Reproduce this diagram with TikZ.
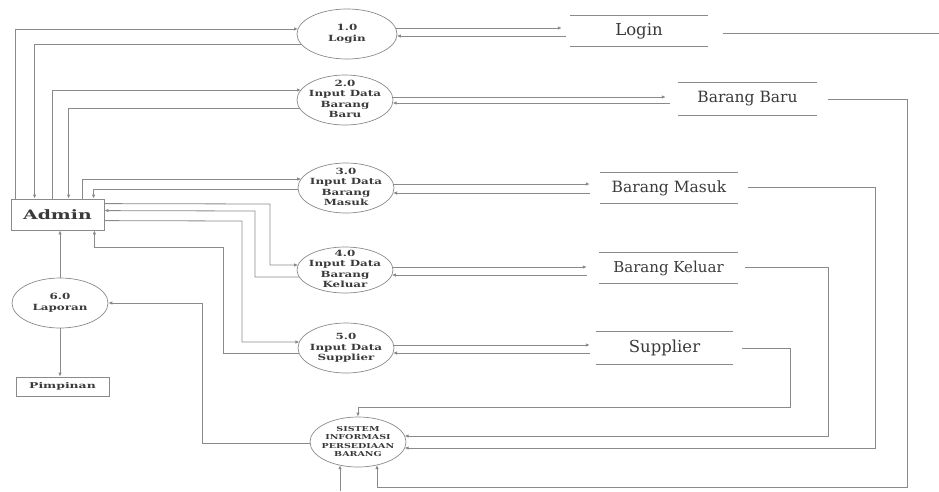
\documentclass[tikz,border=0pt]{standalone}
\usepackage{fontspec}
\setmainfont{DejaVu Serif}
\newfontfamily\procfont[FakeStretch=1.4]{DejaVu Serif}
\newfontfamily\widefont[FakeStretch=1.45]{DejaVu Serif}
\newfontfamily\pimfont[FakeStretch=1.55]{DejaVu Serif}
\usetikzlibrary{shapes.geometric,arrows.meta,calc}
\definecolor{ln}{HTML}{8A8A8A}
\definecolor{tx}{HTML}{3A3A3A}
\newcommand\ptext[2]{\makebox[0pt]{\raisebox{-2pt}[0pt][0pt]{#1\begin{tabular}{@{}c@{}}#2\end{tabular}}}}
\newcommand\pfont{\procfont\bfseries\fontsize{8.5}{10.5}\selectfont}
\begin{document}
\begin{tikzpicture}[x=1pt,y=-1pt,
  line/.style={draw=ln,line width=0.8pt},
  flow/.style={draw=ln,line width=0.8pt,-{Latex[length=4pt,width=3.5pt]}},
  proc/.style={ellipse,draw=ln,line width=0.7pt,inner sep=0pt,text=tx,minimum width=96pt,minimum height=50pt},
  boxnode/.style={rectangle,draw=ln,line width=0.8pt,inner sep=0pt,text=tx},
  store/.style={inner sep=0pt,text=tx,minimum height=30pt},
  storeline/.style={draw=ln,line width=1pt}]
\useasboundingbox (0,0) rectangle (939,491);

% external entities
\node[boxnode,minimum width=93pt,minimum height=31pt] (admin) at (57.5,214.5)
  {\widefont\bfseries\fontsize{13}{15}\selectfont Admin};
\node[boxnode,minimum width=93pt,minimum height=19pt] (pim) at (62.5,386.5)
  {\pimfont\bfseries\fontsize{8}{9}\selectfont Pimpinan};

% processes
\node[proc,minimum width=100pt] (p1) at (347,34) {\ptext{\pfont}{1.0\\Login}};
\node[proc] (p2) at (345,100) {\ptext{\pfont}{2.0\\Input Data\\Barang\\Baru}};
\node[proc] (p3) at (346,188) {\ptext{\pfont}{3.0\\Input Data\\Barang\\Masuk}};
\node[proc,minimum height=46pt] (p4) at (345,270) {\ptext{\pfont}{4.0\\Input Data\\Barang\\Keluar}};
\node[proc] (p5) at (346,348) {\ptext{\pfont}{5.0\\Input Data\\Supplier}};
\node[proc] (p6) at (60,303) {\ptext{\pfont}{6.0\\Laporan}};
\node[proc] (ps) at (358,442) {\ptext{\procfont\bfseries\fontsize{6.8}{8.5}\selectfont}{SISTEM\\INFORMASI\\PERSEDIAAN\\BARANG}};

% data stores
\node[store,minimum width=138pt] (sLogin) at (639,31) {\fontsize{16.5}{19}\selectfont Login};
\node[store,minimum width=139pt,minimum height=32pt] (sBaru) at (747.5,99) {\fontsize{15.5}{18}\selectfont Barang Baru};
\node[store,minimum width=138pt] (sMasuk) at (669,188) {\fontsize{15.5}{18}\selectfont Barang Masuk};
\node[store,minimum width=139pt] (sKeluar) at (668.5,268) {\fontsize{15}{18}\selectfont Barang Keluar};
\node[store,minimum width=137pt,minimum height=32pt] (sSupp) at (664.5,348) {\fontsize{16.5}{19}\selectfont Supplier};
\foreach \s in {sLogin,sBaru,sMasuk,sKeluar,sSupp}{
  \draw[storeline] (\s.north west) -- (\s.north east);
  \draw[storeline] (\s.south west) -- (\s.south east);
}

\coordinate (lout) at (939,33);
\coordinate (bin) at (340,491);

% admin <-> processes
\draw[flow] ($(admin.north west)+(5,0)$) |- ($(p1)+(-49,-5)$);
\draw[flow] ($(p1)+(-45.8,10)$) -| ($(admin.north west)+(24,0)$);
\draw[flow] ($(admin.north west)+(42,0)$) |- ($(p2)+(-44,-10)$);
\draw[flow] ($(p2)+(-45.5,8)$) -| ($(admin.north west)+(58,0)$);
\draw[flow] ($(admin.north west)+(72,0)$) |- ($(p3)+(-44.8,-9)$);
\draw[flow] ($(p3)+(-48,1)$) -| ($(admin.north west)+(83,0)$);
\draw[flow] ($(admin.north east)+(0,5)$) -- (270,204) |- ($(p4)+(-46.9,-5)$);
\draw[flow] ($(p4)+(-45.7,7)$) -| (255,211) -- ($(admin.north east)+(0,12)$);
\draw[flow] ($(admin.north east)+(0,22)$) -- (242,221) |- ($(p5)+(-46.6,-6)$);
\draw[flow] ($(p5)+(-47,5)$) -| (223,247) -| ($(admin.south east)+(-10,0)$);

% laporan
\draw[flow] (p6.north) -- (p6.north |- admin.south);
\draw[flow] (p6.south) -- (p6.south |- pim.north);
\draw[flow] ($(ps)+(-48,1)$) -| (202,303) -- (p6.east);

% processes <-> stores
\draw[flow] ($(p1)+(48.5,-6)$) -- ($(sLogin.west)+(-8,-3)$);
\draw[flow] ($(sLogin.west)+(-4,5)$) -- ($(p1)+(49.8,2)$);
\draw[flow] ($(p2)+(47.6,-3)$) -- ($(sBaru.west)+(-12,-2)$);
\draw[flow] ($(sBaru.west)+(-8,4)$) -- ($(p2)+(47.6,3)$);
\draw[flow] ($(p3)+(47.4,-4)$) -- ($(sMasuk.west)+(-10,-4)$);
\draw[flow] ($(sMasuk.west)+(-10,5)$) -- ($(p3)+(47,5)$);
\draw[flow] ($(p4)+(47.6,-3)$) -- ($(sKeluar.west)+(-12,-1)$);
\draw[flow] ($(sKeluar.west)+(-12,7)$) -- ($(p4)+(46.9,5)$);
\draw[flow] ($(p5)+(47.6,-3)$) -- ($(sSupp.west)+(-6,-3)$);
\draw[flow] ($(sSupp.west)+(-6,5)$) -- ($(p5)+(47,5)$);

% stores -> sistem
\draw[flow] ($(sSupp.east)+(9,0)$) -| (790,407) -| (ps.north);
\draw[flow] ($(sKeluar.east)+(7,-1)$) -| (828,436) -- ($(ps)+(46.6,-6)$);
\draw[flow] ($(sMasuk.east)+(10,-1)$) -| (875,448) -- ($(ps)+(46.6,6)$);
\draw[flow] ($(sBaru.east)+(11,0)$) -| (907,487) -| ($(ps)+(19,23)$);
\draw[line] ($(sLogin.east)+(15,2)$) -- (lout);
\draw[flow] (bin) -- ($(ps)+(-18,23.2)$);
\end{tikzpicture}
\end{document}
